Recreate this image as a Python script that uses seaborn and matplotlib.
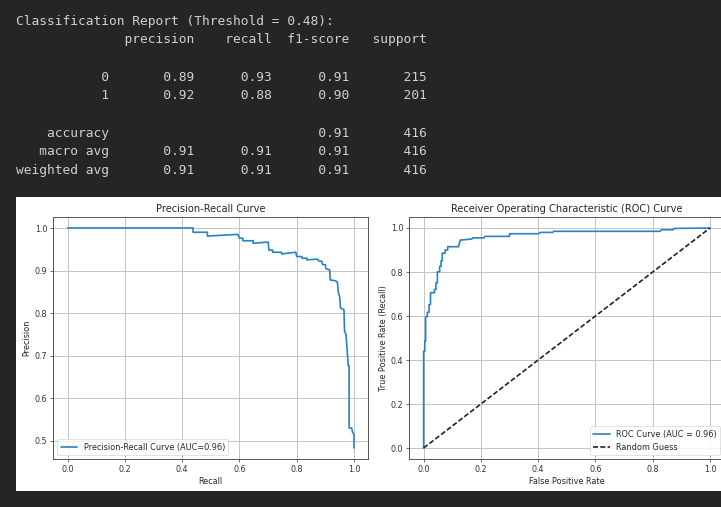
import numpy as np
import pandas as pd
import matplotlib
matplotlib.use("Agg")
import matplotlib.pyplot as plt
from matplotlib.patches import Rectangle
import seaborn as sns

# Report values
threshold = 0.48
class_names = ['0', '1']
precision = [0.89, 0.92]
recall = [0.93, 0.88]
f1 = [0.91, 0.90]
support = [215, 201]
accuracy = 0.91
macro_avg = [0.91, 0.91, 0.91]
weighted_avg = [0.91, 0.91, 0.91]
total = 416

# Precision-recall curve
pr_recall = [0.000, 0.438, 0.438, 0.488, 0.488, 0.595, 0.600, 0.612, 0.612, 0.648,
             0.648, 0.700, 0.703, 0.716, 0.716, 0.747, 0.747, 0.797, 0.800, 0.818,
             0.818, 0.836, 0.836, 0.872, 0.878, 0.888, 0.890, 0.900, 0.902, 0.915,
             0.917, 0.935, 0.942, 0.945, 0.950, 0.953, 0.965, 0.967, 0.972, 0.976,
             0.980, 0.983, 0.983, 0.992, 0.995, 1.000, 1.000]
pr_precision = [1.000, 1.000, 0.990, 0.990, 0.981, 0.985, 0.976, 0.976, 0.970, 0.970,
                0.964, 0.967, 0.948, 0.948, 0.943, 0.943, 0.939, 0.943, 0.933, 0.933,
                0.929, 0.929, 0.925, 0.927, 0.922, 0.922, 0.914, 0.914, 0.904, 0.902,
                0.878, 0.876, 0.873, 0.850, 0.838, 0.812, 0.808, 0.758, 0.750, 0.715,
                0.676, 0.676, 0.530, 0.530, 0.520, 0.515, 0.483]
pr_auc = 0.96

# ROC curve
fpr = [0.000, 0.000, 0.004, 0.004, 0.007, 0.007, 0.013, 0.013, 0.019, 0.019,
       0.024, 0.024, 0.038, 0.038, 0.043, 0.043, 0.048, 0.048, 0.056, 0.056,
       0.061, 0.061, 0.065, 0.065, 0.075, 0.075, 0.084, 0.084, 0.122, 0.128,
       0.168, 0.172, 0.210, 0.215, 0.300, 0.300, 0.400, 0.410, 0.450, 0.455,
       0.826, 0.830, 0.872, 0.875, 1.000]
tpr = [0.000, 0.440, 0.440, 0.487, 0.487, 0.597, 0.597, 0.617, 0.617, 0.652,
       0.652, 0.706, 0.706, 0.721, 0.721, 0.751, 0.751, 0.801, 0.801, 0.826,
       0.826, 0.851, 0.851, 0.886, 0.886, 0.900, 0.900, 0.915, 0.915, 0.945,
       0.950, 0.955, 0.955, 0.962, 0.962, 0.974, 0.974, 0.980, 0.980, 0.985,
       0.985, 0.992, 0.992, 0.998, 1.000]
roc_auc = 0.96

BG = '#252526'
TXT = '#d0d0d0'
BLUE = '#2a82c4'

sns.set_theme(style="ticks")
plt.rcParams.update({
    'font.family': ['DejaVu Sans'],
    'axes.edgecolor': '#3a3a3a',
    'axes.linewidth': 0.6,
    'xtick.major.size': 2.1, 'ytick.major.size': 2.1,
    'xtick.major.width': 0.5, 'ytick.major.width': 0.5,
    'xtick.major.pad': 2.1, 'ytick.major.pad': 2.1,
    'xtick.labelsize': 5.8, 'ytick.labelsize': 5.8,
    'xtick.color': '#333333', 'ytick.color': '#333333',
    'axes.labelsize': 5.9, 'axes.labelpad': 2.4,
    'axes.titlesize': 7.1, 'axes.titlepad': 3.6,
    'legend.fontsize': 5.9,
    'grid.color': '#c4c4c4', 'grid.linewidth': 0.7,
})

fig = plt.figure(figsize=(7.21, 5.07), dpi=100, facecolor=BG)
W, H = 721, 507
fig.patches.append(Rectangle((16 / W, (H - 491) / H), 1.0, (491 - 197) / H,
                             transform=fig.transFigure, facecolor='white',
                             edgecolor='none', zorder=-5))

# sklearn-style text report
width = len('weighted avg')
lines = [f"Classification Report (Threshold = {threshold}):"]
lines.append(f"{'':>{width}s} " + ''.join(f" {h:>9}" for h in ['precision', 'recall', 'f1-score', 'support']))
lines.append('')
for name, p, r, f, s in zip(class_names, precision, recall, f1, support):
    lines.append(f"{name:>{width}s} " + f" {p:>9.2f} {r:>9.2f} {f:>9.2f} {s:>9}")
lines.append('')
lines.append(f"{'accuracy':>{width}s} " + f" {'':>9} {'':>9} {accuracy:>9.2f} {total:>9}")
for name, vals in [('macro avg', macro_avg), ('weighted avg', weighted_avg)]:
    lines.append(f"{name:>{width}s} " + ''.join(f" {v:>9.2f}" for v in vals) + f" {total:>9}")

for i, ln in enumerate(lines):
    fig.text(16 / W, 1 - (21 + 18.7 * i) / H, ln, color=TXT, family='DejaVu Sans Mono',
             fontsize=9.3, va='center', ha='left')

ax_h = (459 - 217) / H
ax1 = fig.add_axes([53.3 / W, 1 - 459 / H, 315 / W, ax_h])
ax2 = fig.add_axes([409.3 / W, 1 - 459 / H, 315 / W, ax_h])

pr_df = pd.DataFrame({'Recall': pr_recall, 'Precision': pr_precision})
sns.lineplot(data=pr_df, x='Recall', y='Precision', sort=False, estimator=None,
             color=BLUE, lw=1.2, label=f'Precision-Recall Curve (AUC={pr_auc:.2f})', ax=ax1)
ax1.set_title('Precision-Recall Curve')
ax1.set_xlabel('Recall')
ax1.set_ylabel('Precision')
ax1.grid(True)
ax1.legend(loc='lower left', frameon=True)

roc_df = pd.DataFrame({'fpr': fpr, 'tpr': tpr})
sns.lineplot(data=roc_df, x='fpr', y='tpr', sort=False, estimator=None,
             color=BLUE, lw=1.2, label=f'ROC Curve (AUC = {roc_auc:.2f})', ax=ax2)
sns.lineplot(x=[0, 1], y=[0, 1], color='#222222', linestyle=(0, (3.0, 1.4)), lw=1.2,
             label='Random Guess', ax=ax2)
ax2.set_title('Receiver Operating Characteristic (ROC) Curve')
ax2.set_xlabel('False Positive Rate')
ax2.set_ylabel('True Positive Rate (Recall)')
ax2.grid(True)
ax2.legend(loc='lower right', frameon=True)

for ax in (ax1, ax2):
    ax.set_facecolor('white')
    ax.set_xticks([0.0, 0.2, 0.4, 0.6, 0.8, 1.0])
    ax.margins(0.05)
    ax.get_legend().get_frame().set_linewidth(0.5)

fig.savefig('out.png', dpi=100, facecolor=BG)
